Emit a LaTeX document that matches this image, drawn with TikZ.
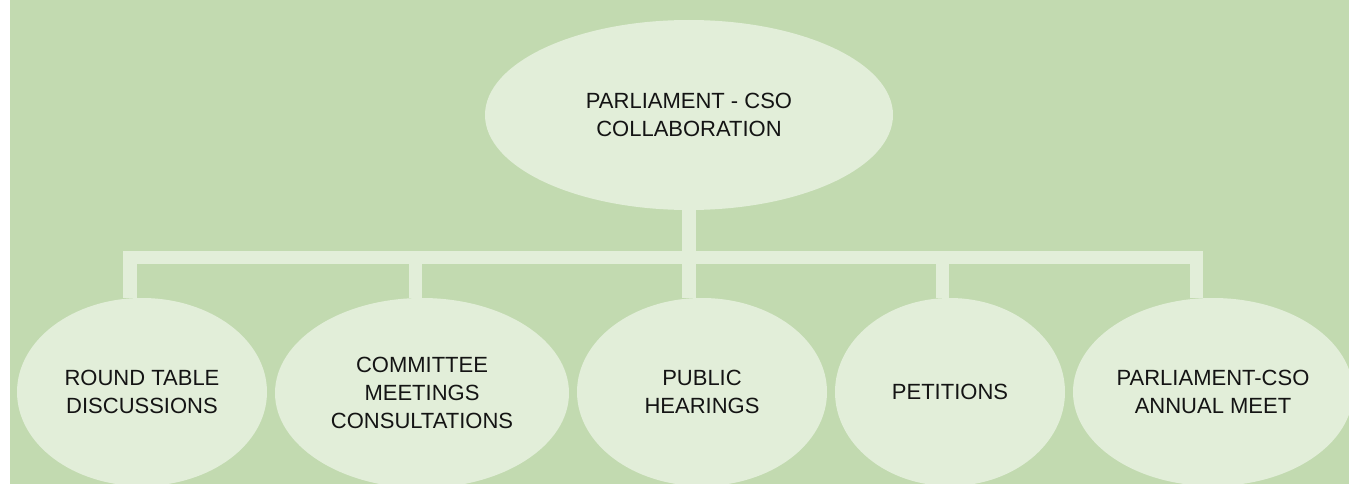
\documentclass[tikz,border=0pt]{standalone}
\usepackage{fontspec}
\setmainfont{Liberation Sans}
\usetikzlibrary{shapes.geometric}
\definecolor{bggreen}{RGB}{194,218,176}
\definecolor{pale}{RGB}{226,238,217}
\definecolor{ink}{RGB}{20,20,20}
\tikzset{
  bubble/.style={ellipse, fill=pale, draw=none, inner sep=0pt, align=center,
    text=ink, font=\fontsize{22}{27.7}\selectfont},
  conn/.style={draw=pale, line width=13.5pt, line join=miter, line cap=butt}
}
\begin{document}
\begin{tikzpicture}[x=1pt,y=-1pt]
\useasboundingbox (0,0) rectangle (1349,484);
\fill[bggreen] (10,0) rectangle (1349,484);
% nodes
\node[bubble, minimum width=408pt, minimum height=190pt] (top) at (689,115) {PARLIAMENT - CSO\\COLLABORATION};
\node[bubble, minimum width=250pt, minimum height=188pt] (n1) at (142,392) {ROUND TABLE\\DISCUSSIONS};
\node[bubble, minimum width=294pt, minimum height=190pt] (n2) at (422,393) {COMMITTEE\\MEETINGS\\CONSULTATIONS};
\node[bubble, minimum width=250pt, minimum height=188pt] (n3) at (702,392) {PUBLIC\\HEARINGS};
\node[bubble, minimum width=230pt, minimum height=188pt] (n4) at (950,392) {PETITIONS};
\node[bubble, minimum width=280pt, minimum height=188pt] (n5) at (1213,392) {PARLIAMENT-CSO\\ANNUAL MEET};
% connector joints
\coordinate (bar) at (689,257.5);
\coordinate (s1) at (130,257.5);
\coordinate (s2) at (415.5,257.5);
\coordinate (s3) at (689,257.5);
\coordinate (s4) at (942.5,257.5);
\coordinate (s5) at (1196.5,257.5);
% connectors
\draw[conn] (top.south) -- (bar);
\draw[conn] (s1 |- n1.north) -- (s1) -- (s5) -- (s5 |- n5.north);
\draw[conn] (s2) -- (s2 |- n2.north);
\draw[conn] (s3) -- (s3 |- n3.north);
\draw[conn] (s4) -- (s4 |- n4.north);
\end{tikzpicture}
\end{document}
